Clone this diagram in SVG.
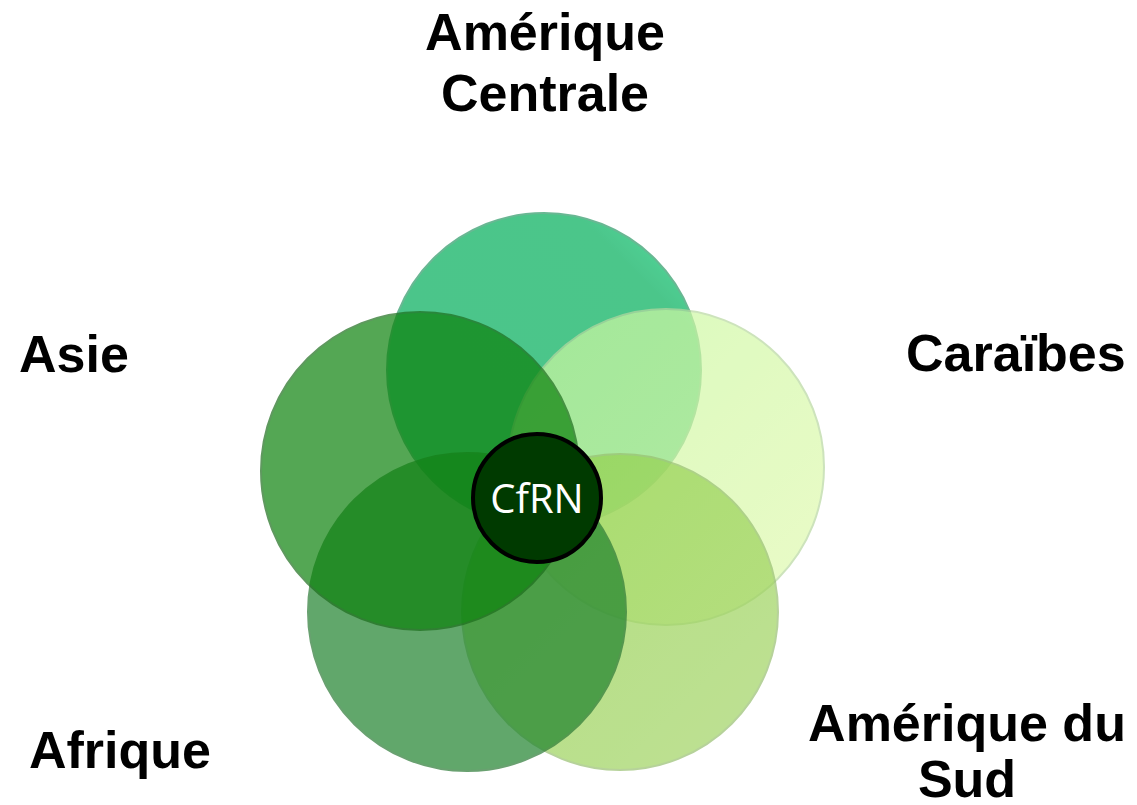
<svg xmlns="http://www.w3.org/2000/svg" width="1137" height="805" viewBox="0 0 1137 805">
<style>
.lbl{font-family:"Liberation Sans",Arial,sans-serif;font-weight:bold;font-size:52px;fill:#000}
.petal{opacity:0.7;stroke-width:2}
</style>
<defs>
<linearGradient id="gTop" x1="0" y1="1" x2="1" y2="0">
<stop offset="0" stop-color="#00ac58"/><stop offset="0.8" stop-color="#00ae5a"/><stop offset="1" stop-color="#10d880"/>
</linearGradient>
<linearGradient id="gRight" x1="0" y1="0" x2="1" y2="1">
<stop offset="0" stop-color="#c8f8a0"/><stop offset="1" stop-color="#e2fab0"/>
</linearGradient>
<linearGradient id="gBR" x1="0" y1="0" x2="1" y2="1">
<stop offset="0" stop-color="#90d048"/><stop offset="1" stop-color="#a4d468"/>
</linearGradient>
</defs>
<rect width="1137" height="805" fill="#fff"/>
<g id="node-amerique-centrale">
<circle class="petal" cx="544" cy="370" r="157" fill="url(#gTop)" stroke="#2a9a66"/>
<text class="lbl" x="545" y="50" text-anchor="middle">Amérique</text>
<text class="lbl" x="545" y="111" text-anchor="middle">Centrale</text>
</g>
<g id="node-caraibes">
<circle class="petal" cx="666" cy="467" r="158" fill="url(#gRight)" stroke="#b8d8a0"/>
<text class="lbl" x="906" y="371">Caraïbes</text>
</g>
<g id="node-amerique-du-sud">
<circle class="petal" cx="620" cy="612" r="158" fill="url(#gBR)" stroke="#98c070"/>
<text class="lbl" x="967" y="741" text-anchor="middle">Amérique du</text>
<text class="lbl" x="967" y="797" text-anchor="middle">Sud</text>
</g>
<g id="node-afrique">
<circle class="petal" cx="467" cy="612" r="159" fill="#1f832d" stroke="#2a7a35"/>
<text class="lbl" x="29" y="768">Afrique</text>
</g>
<g id="node-asie">
<circle class="petal" cx="420" cy="471" r="159" fill="#0c820c" stroke="#1c6e1c"/>
<text class="lbl" x="19" y="372">Asie</text>
</g>
<g id="node-cfrn">
<circle cx="537" cy="498" r="64" fill="#003a00" stroke="#000" stroke-width="4"/>
<text x="537" y="513" text-anchor="middle" font-family="'Open Sans','DejaVu Sans',sans-serif" font-size="40" fill="#fff">CfRN</text>
</g>
<g id="connectors"></g>
</svg>
